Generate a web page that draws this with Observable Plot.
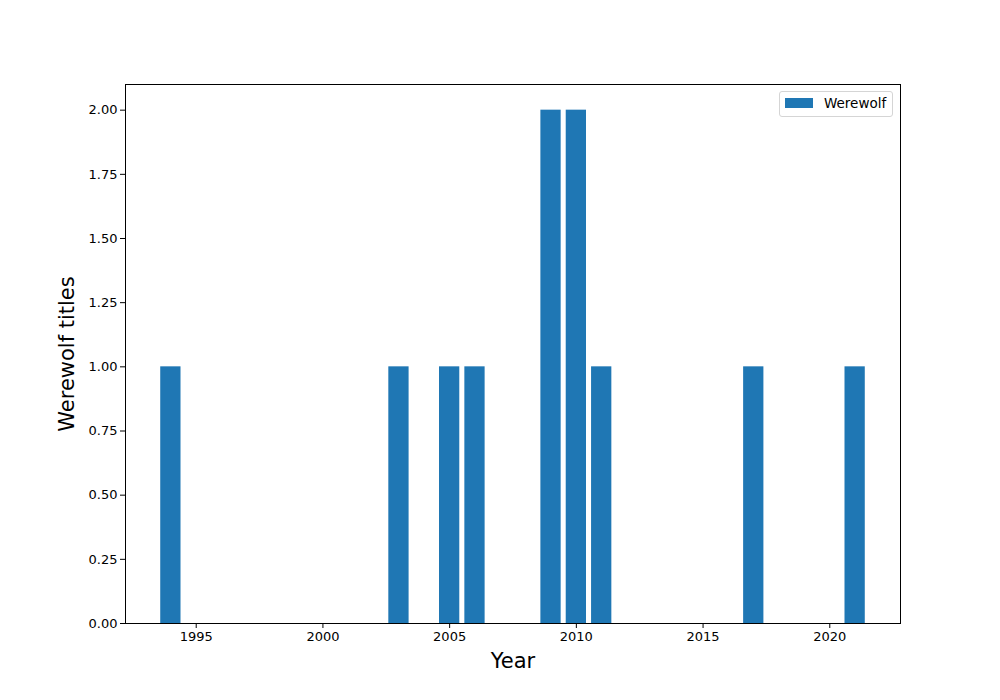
<!DOCTYPE html>
<html>
<head>
<meta charset="utf-8">
<script src="https://cdn.jsdelivr.net/npm/d3@7"></script>
<script src="https://cdn.jsdelivr.net/npm/@observablehq/plot@0.6"></script>
<style>
  html, body { margin: 0; padding: 0; background: #fff; }
  #wrap { position: relative; width: 1000px; height: 700px; font-family: "DejaVu Sans", sans-serif; }
  #legend { position: absolute; left: 779px; top: 91px; width: 114px; height: 26px; border: 1px solid #d5d5d5; border-radius: 3px; background: rgba(255,255,255,0.8); box-sizing: border-box; }
  #legend .sw { position: absolute; left: 5px; top: 6px; width: 28px; height: 10px; background: #1f77b4; }
  #legend .lb { position: absolute; left: 44px; top: 3px; font-size: 13.5px; color: #000; line-height: 16px; }
</style>
</head>
<body>
<div id="wrap"></div>
<script>
const years = [1994, 2003, 2005, 2006, 2009, 2010, 2011, 2017, 2021];
const counts = [1, 1, 1, 1, 2, 2, 1, 1, 1];
const xTicks = [1995, 2000, 2005, 2010, 2015, 2020];
const yTicks = [0, 0.25, 0.5, 0.75, 1.0, 1.25, 1.5, 1.75, 2.0];
const seriesName = "Werewolf";
const xLabel = "Year";
const yLabel = "Werewolf titles";

const data = years.map((y, i) => ({year: y, count: counts[i]}));
const barW = 0.8;

const chart = Plot.plot({
  width: 1000,
  height: 700,
  marginLeft: 125,
  marginRight: 100,
  marginTop: 84,
  marginBottom: 77,
  style: {fontFamily: "DejaVu Sans, sans-serif", fontSize: "13px", color: "#000", background: "#fff"},
  x: {type: "linear", domain: [1992.21, 2022.79]},
  y: {domain: [0, 2.1]},
  marks: [
    Plot.rectY(data, {x1: d => d.year - barW / 2, x2: d => d.year + barW / 2, y1: 0, y2: "count", fill: "#1f77b4"}),
    Plot.frame({stroke: "#000", strokeWidth: 1}),
    Plot.axisX({ticks: xTicks, tickFormat: d => String(d), tickSize: 5, tickPadding: 3, label: null, stroke: "#000"}),
    Plot.axisY({ticks: yTicks, tickFormat: d3.format(".2f"), tickSize: 5, tickPadding: 3, label: null, stroke: "#000"}),
    Plot.text([xLabel], {frameAnchor: "bottom", dy: 38, lineAnchor: "middle", textAnchor: "middle", text: d => d, fontSize: 21, fill: "#000"}),
    Plot.text([yLabel], {frameAnchor: "left", dx: -58, rotate: -90, lineAnchor: "middle", textAnchor: "middle", text: d => d, fontSize: 21, fill: "#000"})
  ]
});

const wrap = document.getElementById("wrap");
wrap.appendChild(chart);
const lg = document.createElement("div");
lg.id = "legend";
lg.innerHTML = '<div class="sw"></div><div class="lb"></div>';
lg.querySelector(".lb").textContent = seriesName;
wrap.appendChild(lg);
</script>
</body>
</html>
